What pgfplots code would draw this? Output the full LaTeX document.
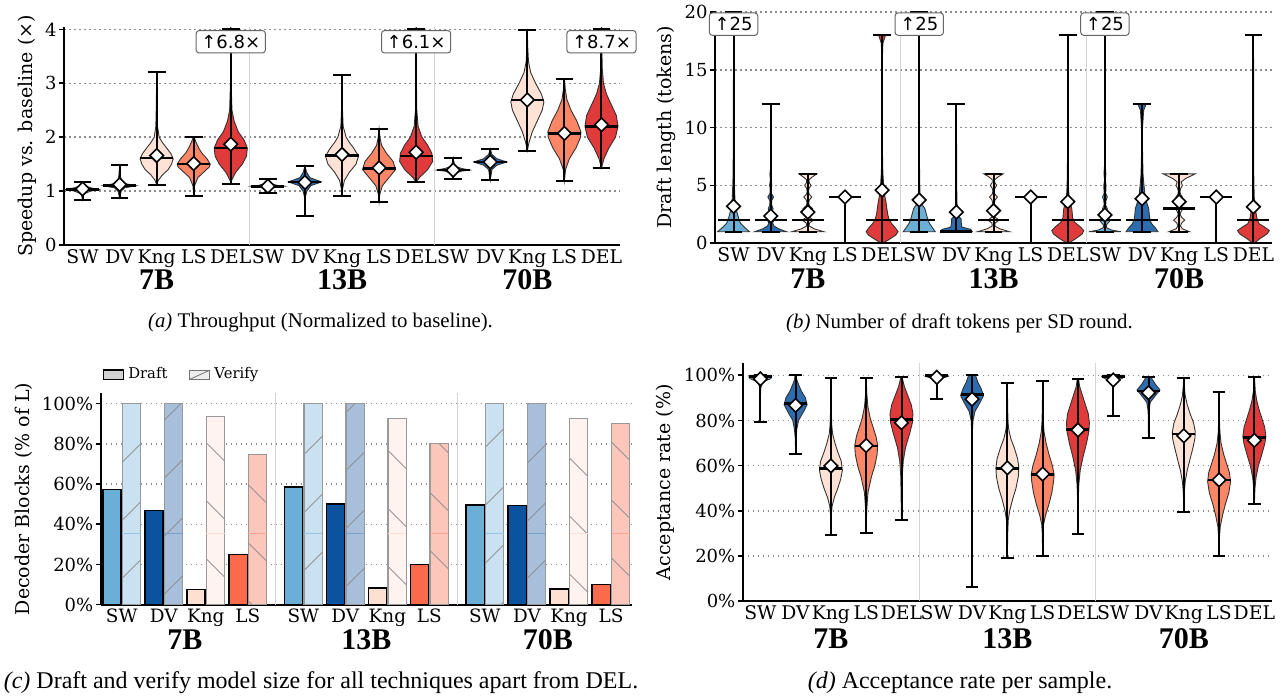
\documentclass[border=0pt]{standalone}
\usepackage{fontspec}
\setmainfont{DejaVu Serif}
\newfontfamily\capfont{Liberation Serif}
\newfontfamily\boxfont{DejaVu Sans}
\usepackage{pgfplots}
\pgfplotsset{compat=1.18}
\usetikzlibrary{patterns.meta}

% violin colours
\definecolor{vSW}{HTML}{6BAED6}
\definecolor{vDV}{HTML}{2C6DB0}
\definecolor{vKng}{HTML}{FEE2D5}
\definecolor{vLS}{HTML}{FC8666}
\definecolor{vDEL}{HTML}{E13A3A}
% bar colours (draft / verify)
\definecolor{bSW}{HTML}{6BAED6}
\definecolor{bDV}{HTML}{0B539C}
\definecolor{bKng}{HTML}{FEE0D2}
\definecolor{bLS}{HTML}{FB6A4A}
\definecolor{wSW}{HTML}{C9E1F0}
\definecolor{wDV}{HTML}{A7BFDA}
\definecolor{wKng}{HTML}{FFF3EF}
\definecolor{wLS}{HTML}{FCC7BA}
\definecolor{gridc}{HTML}{8C8C8C}
\definecolor{sepc}{HTML}{D4D4D4}

\tikzset{
  grp/.style={font=\capfont\bfseries\fontsize{15}{15}\selectfont, inner sep=0pt},
  anno/.style={font=\boxfont\fontsize{9}{9}\selectfont, draw=black!60, fill=white,
    rounded corners=1.5pt, line width=0.5pt, inner xsep=2.6pt, inner ysep=2.2pt},
}
\pgfplotsset{
  panel/.style={
    scale only axis, anchor=south west, clip mode=individual,
    axis x line*=bottom, axis y line*=left,
    axis line style={-, line width=0.9pt, black},
    ymajorgrids,
    major grid style={dash pattern=on 0.8pt off 1.7pt, line width=0.75pt, gridc},
    tick align=outside, major tick length=2.5pt,
    ytick style={line width=0.8pt, black},
    xtick style={draw=none},
    xticklabel shift=-1.5pt,
    /pgf/number format/assume math mode=true,
    yticklabel style={font=\fontsize{9}{9}\selectfont, inner sep=1pt},
    xticklabel style={font=\fontsize{9.4}{9.4}\selectfont, inner sep=1pt},
    ylabel style={font=\fontsize{9.5}{10}\selectfont},
  },
  vbody/.style={draw=black!80, line width=0.45pt},
  vline/.style={black, line width=1pt},
  vmed/.style={black, line width=1.3pt},
  vmean/.style={only marks, mark=square*, mark size=2.4pt,
    mark options={rotate=45, fill=white, draw=black, line width=0.8pt}},
  sep/.style={sepc, line width=0.6pt},
}

% violin body: centre, colour, list of value/relative half-width
\newcommand\vbody[3]{%
  \gdef\vR{}\gdef\vL{}%
  \foreach \yy/\ww in {#3}{%
    \pgfmathsetmacro\xr{#1+\vhw*\ww}%
    \pgfmathsetmacro\xl{#1-\vhw*\ww}%
    \xdef\vR{\vR(\xr,\yy)}%
    \xdef\vL{(\xl,\yy)\vL}%
  }%
  \edef\vtmp{\noexpand\addplot[vbody,fill=#2] coordinates {\vR\vL} -- cycle;}%
  \vtmp}
% whisker, caps, median line and mean: centre, min, max, median, mean
\newcommand\vstat[5]{%
  \pgfmathsetmacro\ca{#1-\vcap}\pgfmathsetmacro\cb{#1+\vcap}%
  \pgfmathsetmacro\ma{#1-\vhw}\pgfmathsetmacro\mb{#1+\vhw}%
  \edef\vtmp{%
    \noexpand\addplot[vline] coordinates {(#1,#2) (#1,#3)};%
    \noexpand\addplot[vline] coordinates {(\ca,#2) (\cb,#2)};%
    \noexpand\addplot[vline] coordinates {(\ca,#3) (\cb,#3)};%
    \noexpand\addplot[vmed] coordinates {(\ma,#4) (\mb,#4)};%
    \noexpand\addplot[vmean] coordinates {(#1,#5)};}%
  \vtmp}

\begin{document}
\begin{tikzpicture}
\useasboundingbox (0,0) rectangle (642pt,350pt);

% ---------------- (a) throughput ----------------
\def\vhw{0.446}\def\vcap{0.24}
\begin{axis}[panel, at={(32pt,227.5pt)}, width=278pt, height=108.9pt,
  xmin=-0.5, xmax=14.5, ymin=0, ymax=4.04, ytick={0,1,2,3,4},
  xtick={0,...,14},
  xticklabels={SW,DV,Kng,LS,DEL,SW,DV,Kng,LS,DEL,SW,DV,Kng,LS,DEL},
  ylabel={Speedup vs. baseline (×)}]
\addplot[sep] coordinates {(4.5,0) (4.5,4.04)};
\addplot[sep] coordinates {(9.5,0) (9.5,4.04)};
% 7B
\vbody{0}{vSW}{0.84/0,0.95/0.08,1.0/0.5,1.03/1,1.06/0.5,1.1/0.1,1.17/0}
\vstat{0}{0.84}{1.17}{1.03}{1.04}
\vbody{1}{vDV}{0.88/0,1.0/0.1,1.06/0.3,1.1/1,1.14/0.3,1.2/0.1,1.3/0.04,1.48/0}
\vstat{1}{0.88}{1.48}{1.1}{1.12}
\vbody{2}{vKng}{1.12/0,1.2/0.1,1.3/0.35,1.4/0.7,1.5/0.9,1.6/1,1.7/0.85,1.8/0.6,1.9/0.35,2.0/0.15,2.2/0.05,2.6/0.02,3.2/0}
\vstat{2}{1.12}{3.2}{1.61}{1.66}
\vbody{3}{vLS}{0.9/0,1.1/0.05,1.25/0.25,1.35/0.6,1.45/0.95,1.5/1,1.6/0.8,1.7/0.5,1.8/0.3,1.9/0.15,2.0/0.02}
\vstat{3}{0.9}{2.01}{1.5}{1.51}
\vbody{4}{vDEL}{1.14/0,1.2/0.05,1.35/0.3,1.5/0.7,1.65/0.95,1.8/1,1.95/0.8,2.1/0.45,2.3/0.2,2.5/0.07,3/0.02,4.2/0.01}
\vstat{4}{1.14}{4}{1.8}{1.87}
% 13B
\vbody{5}{vSW}{0.96/0,1.04/0.1,1.07/0.5,1.09/1,1.11/0.5,1.15/0.1,1.22/0}
\vstat{5}{0.96}{1.22}{1.09}{1.09}
\vbody{6}{vDV}{0.53/0,0.9/0.03,1.0/0.12,1.1/0.35,1.17/1,1.25/0.3,1.35/0.1,1.47/0}
\vstat{6}{0.53}{1.47}{1.17}{1.16}
\vbody{7}{vKng}{0.9/0,1.05/0.04,1.2/0.15,1.35/0.45,1.5/0.85,1.65/1,1.8/0.7,1.9/0.45,2.0/0.25,2.2/0.07,2.5/0.03,3.15/0}
\vstat{7}{0.9}{3.15}{1.66}{1.68}
\vbody{8}{vLS}{0.8/0,0.95/0.05,1.1/0.2,1.25/0.6,1.4/1,1.55/0.85,1.7/0.45,1.85/0.15,2.0/0.05,2.15/0}
\vstat{8}{0.8}{2.15}{1.42}{1.43}
\vbody{9}{vDEL}{1.17/0,1.25/0.2,1.4/0.7,1.55/1,1.7/0.95,1.85/0.7,2.0/0.35,2.2/0.12,2.5/0.04,3/0.02,4.2/0.01}
\vstat{9}{1.17}{4}{1.65}{1.72}
% 70B
\vbody{10}{vSW}{1.23/0,1.33/0.1,1.37/0.5,1.39/1,1.42/0.5,1.46/0.1,1.61/0}
\vstat{10}{1.23}{1.61}{1.39}{1.39}
\vbody{11}{vDV}{1.2/0,1.4/0.1,1.48/0.4,1.54/1,1.6/0.4,1.68/0.1,1.78/0}
\vstat{11}{1.2}{1.78}{1.54}{1.54}
\vbody{12}{vKng}{1.75/0,1.9/0.1,2.1/0.3,2.3/0.6,2.5/0.9,2.65/1,2.8/0.85,3.0/0.5,3.2/0.2,3.4/0.07,3.7/0.02,3.98/0}
\vstat{12}{1.75}{3.98}{2.69}{2.69}
\vbody{13}{vLS}{1.19/0,1.4/0.07,1.6/0.3,1.8/0.7,2.0/0.98,2.1/1,2.3/0.75,2.5/0.4,2.7/0.15,2.9/0.05,3.08/0}
\vstat{13}{1.19}{3.08}{2.07}{2.07}
\vbody{14}{vDEL}{1.43/0,1.6/0.15,1.8/0.45,2.0/0.85,2.2/1,2.4/0.9,2.6/0.6,2.8/0.3,3.0/0.12,3.3/0.04,4.2/0.01}
\vstat{14}{1.43}{4}{2.2}{2.23}
\node[anno] at (axis cs:4,3.77) {↑6.8×};
\node[anno] at (axis cs:9,3.77) {↑6.1×};
\node[anno] at (axis cs:14,3.77) {↑8.7×};
\node[grp] at (axis cs:2,0) [yshift=-17.5pt] {7B};
\node[grp] at (axis cs:7,0) [yshift=-17.5pt] {13B};
\node[grp] at (axis cs:12,0) [yshift=-17.5pt] {70B};
\end{axis}

% ---------------- (b) draft length ----------------
\def\vhw{0.43}\def\vcap{0.24}
\begin{axis}[panel, at={(357.5pt,228.35pt)}, width=278.5pt, height=115.95pt,
  xmin=-0.5, xmax=14.5, ymin=0, ymax=20.05, ytick={0,5,10,15,20},
  xtick={0,...,14},
  xticklabels={SW,DV,Kng,LS,DEL,SW,DV,Kng,LS,DEL,SW,DV,Kng,LS,DEL},
  ylabel={Draft length (tokens)}]
\addplot[sep] coordinates {(4.5,0) (4.5,20.05)};
\addplot[sep] coordinates {(9.5,0) (9.5,20.05)};
% 7B
\vbody{0}{vSW}{1/1,1.3/0.75,1.7/0.45,2/0.35,2.5/0.25,3/0.15,3.5/0.1,4/0.08,5/0.05,6/0.03,8/0.02,10/0.01,20.5/0.005}
\vstat{0}{1}{20}{2}{3.2}
\vbody{1}{vDV}{1/1,1.25/0.5,1.5/0.2,1.75/0.12,2/0.2,2.3/0.08,2.7/0.08,3/0.15,3.3/0.06,3.7/0.06,4/0.18,4.3/0.05,4.7/0.03,5/0.07,5.5/0.02,6/0.05,6.5/0.01,8/0.01,12/0.005}
\vstat{1}{1}{12}{2}{2.36}
\vbody{2}{vKng}{1/1,1.25/0.4,1.5/0.08,1.75/0.1,2/0.35,2.25/0.1,2.5/0.05,2.75/0.1,3/0.3,3.25/0.1,3.5/0.05,3.75/0.1,4/0.25,4.25/0.08,4.5/0.04,4.75/0.08,5/0.2,5.25/0.08,5.5/0.08,5.75/0.3,6/0.55}
\vstat{2}{1}{6}{2}{2.7}
\vstat{3}{0}{4}{4}{4}
\vbody{4}{vDEL}{0/0.05,0.3/0.4,0.7/0.85,1.0/1.0,1.3/0.85,1.7/0.6,2/0.45,2.5/0.35,3/0.3,3.5/0.25,4/0.18,5/0.1,6/0.05,7/0.03,9/0.02,12/0.015,16/0.015,17.3/0.05,18/0.22}
\vstat{4}{0}{18}{2}{4.6}
% 13B
\vbody{5}{vSW}{1/1,1.3/0.85,1.7/0.65,2/0.55,2.5/0.45,3/0.35,3.3/0.2,3.7/0.08,4.5/0.04,6/0.02,10/0.01,20.5/0.005}
\vstat{5}{1}{20}{2}{3.75}
\vbody{6}{vDV}{1/1,1.2/0.9,1.4/0.35,1.8/0.3,2.1/0.3,2.4/0.1,3/0.05,4/0.03,6/0.015,12/0.005}
\vstat{6}{1}{12}{1}{2.7}
\vbody{7}{vKng}{1/1,1.25/0.4,1.5/0.08,1.75/0.1,2/0.35,2.25/0.1,2.5/0.05,2.75/0.1,3/0.3,3.25/0.1,3.5/0.05,3.75/0.1,4/0.25,4.25/0.08,4.5/0.04,4.75/0.08,5/0.2,5.25/0.08,5.5/0.08,5.75/0.3,6/0.6}
\vstat{7}{1}{6}{2}{2.82}
\vstat{8}{0}{4}{4}{4}
\vbody{9}{vDEL}{0/0.05,0.4/0.5,0.8/0.9,1.1/1.0,1.4/0.8,1.8/0.45,2.2/0.3,2.6/0.28,3/0.25,3.5/0.15,4/0.08,5/0.04,7/0.02,10/0.01,18/0.005}
\vstat{9}{0}{18}{2}{3.6}
% 70B
\vbody{10}{vSW}{1/1,1.15/0.4,1.35/0.1,1.6/0.1,2/0.35,2.3/0.1,2.6/0.05,3/0.15,3.3/0.05,3.7/0.07,4/0.15,4.3/0.05,5/0.07,5.5/0.02,6/0.06,7/0.01,20.5/0.005}
\vstat{10}{1}{20}{2}{2.45}
\vbody{11}{vDV}{1/1,1.3/0.85,1.7/0.6,2/0.5,2.5/0.45,3/0.42,3.5/0.3,4/0.2,5/0.12,6/0.06,8/0.03,10/0.03,11.5/0.1,12/0.25}
\vstat{11}{1}{12}{2}{3.86}
\vbody{12}{vKng}{1/0.65,1.25/0.2,1.5/0.08,1.75/0.15,2/0.35,2.25/0.15,2.5/0.06,2.75/0.12,3/0.25,3.25/0.1,3.5/0.05,3.75/0.1,4/0.2,4.25/0.08,4.5/0.05,4.75/0.1,5/0.2,5.3/0.12,5.6/0.4,6/1.0}
\vstat{12}{1}{6}{3}{3.6}
\vstat{13}{0}{4}{4}{4}
\vbody{14}{vDEL}{0/0.05,0.4/0.4,0.8/0.85,1.1/1.0,1.4/0.7,1.7/0.35,2.0/0.25,2.3/0.2,2.7/0.15,3/0.12,3.5/0.08,4/0.05,5/0.03,6/0.02,10/0.01,18/0.005}
\vstat{14}{0}{18}{2}{3.15}
\node[anno] at (axis cs:0,18.95) {↑25};
\node[anno] at (axis cs:5,18.95) {↑25};
\node[anno] at (axis cs:10,18.95) {↑25};
\node[grp] at (axis cs:2,0) [yshift=-17.5pt] {7B};
\node[grp] at (axis cs:7,0) [yshift=-17.5pt] {13B};
\node[grp] at (axis cs:12,0) [yshift=-17.5pt] {70B};
\end{axis}

% ---------------- (c) draft / verify model size ----------------
\begin{axis}[panel, at={(50.35pt,47.65pt)}, width=265.65pt, height=105.75pt,
  xmin=-0.5, xmax=12.14, ymin=0, ymax=105.2, ytick={0,20,40,60,80,100},
  yticklabel={\pgfmathprintnumber{\tick}\%},
  xtick={0,1,2,3,4.32,5.32,6.32,7.32,8.64,9.64,10.64,11.64},
  xticklabels={SW,DV,Kng,LS,SW,DV,Kng,LS,SW,DV,Kng,LS},
  xticklabel style={font=\fontsize{9.2}{9.2}\selectfont},
  ylabel={Decoder Blocks (\% of L)},
  legend style={at={(axis description cs:0.0,1.0)}, anchor=south west,
    yshift=2.5pt, draw=none, fill=none, legend columns=2,
    font=\fontsize{7.4}{7.4}\selectfont, inner sep=1pt,
    /tikz/every even column/.append style={column sep=9pt}},
  draftbar/.style={ybar, bar width=0.435, bar shift=-0.232, draw=black, line width=0.7pt},
  verbar/.style={ybar, bar width=0.435, bar shift=0.232, draw=black!40, line width=0.6pt},
  hatchR/.style={postaction={pattern={Lines[angle=45,distance=20.5pt,line width=0.45pt]},pattern color=black!45}},
  hatchL/.style={postaction={pattern={Lines[angle=-45,distance=20.5pt,line width=0.45pt]},pattern color=black!45}},
  unbounded coords=jump,
]
\addlegendimage{legend image code/.code={\draw[fill=black!18, draw=black, line width=0.6pt] (0pt,-2.3pt) rectangle (10pt,2.3pt);}}
\addlegendentry{Draft}
\addlegendimage{legend image code/.code={\draw[fill=black!7, draw=black!55, line width=0.5pt] (0pt,-2.3pt) rectangle (10pt,2.3pt); \draw[black!55, line width=0.4pt] (0pt,-2.3pt) -- (10pt,2.3pt);}}
\addlegendentry{Verify}
\addplot[sep, forget plot] coordinates {(3.66,0) (3.66,105.2)};
\addplot[sep, forget plot] coordinates {(7.98,0) (7.98,105.2)};
% draft model share
\addplot[draftbar, fill=bSW, forget plot] coordinates {(0,57.4) (4.32,58.5) (8.64,49.6)};
\addplot[draftbar, fill=bDV, forget plot] coordinates {(1,46.9) (5.32,50.1) (9.64,49.3)};
\addplot[draftbar, fill=bKng, forget plot] coordinates {(2,7.5) (6.32,8.3) (10.64,7.8)};
\addplot[draftbar, fill=bLS, forget plot] coordinates {(3,25.0) (7.32,20.1) (11.64,10.1)};
% verify model share
\addplot[verbar, fill=wSW, hatchR, forget plot] coordinates {(0,100) (4.32,100) (8.64,100)};
\addplot[verbar, fill=wDV, hatchR, forget plot] coordinates {(1,100) (5.32,100) (9.64,100)};
\addplot[verbar, fill=wKng, hatchL, forget plot] coordinates {(2,93.7) (6.32,92.5) (10.64,92.5)};
\addplot[verbar, fill=wLS, hatchL, forget plot] coordinates {(3,74.8) (7.32,80.1) (11.64,90.2)};
% faint level line inside each verify bar
\addplot[bSW!70, line width=0.5pt, forget plot] coordinates {(0.015,35.5) (0.449,35.5) (0.5,nan) (4.335,35.5) (4.769,35.5) (4.8,nan) (8.655,35.5) (9.089,35.5)};
\addplot[bDV!55, line width=0.5pt, forget plot] coordinates {(1.015,35.5) (1.449,35.5) (1.5,nan) (5.335,35.5) (5.769,35.5) (5.8,nan) (9.655,35.5) (10.089,35.5)};
\addplot[bKng, line width=0.5pt, forget plot] coordinates {(2.015,35.5) (2.449,35.5) (2.5,nan) (6.335,35.5) (6.769,35.5) (6.8,nan) (10.655,35.5) (11.089,35.5)};
\addplot[bLS!60, line width=0.5pt, forget plot] coordinates {(3.015,35.5) (3.449,35.5) (3.5,nan) (7.335,35.5) (7.769,35.5) (7.8,nan) (11.655,35.5) (12.089,35.5)};
\node[grp] at (axis cs:1.5,0) [yshift=-17.3pt] {7B};
\node[grp] at (axis cs:5.82,0) [yshift=-17.3pt] {13B};
\node[grp] at (axis cs:10.14,0) [yshift=-17.3pt] {70B};
\end{axis}

% ---------------- (d) acceptance rate ----------------
\def\vhw{0.325}\def\vcap{0.18}
\begin{axis}[panel, at={(371.35pt,49.35pt)}, width=264.65pt, height=119pt,
  xmin=-0.5, xmax=14.5, ymin=0, ymax=105.3, ytick={0,20,40,60,80,100},
  yticklabel={\pgfmathprintnumber{\tick}\%},
  xtick={0,...,14},
  xticklabels={SW,DV,Kng,LS,DEL,SW,DV,Kng,LS,DEL,SW,DV,Kng,LS,DEL},
  ylabel={Acceptance rate (\%)}]
\addplot[sep] coordinates {(4.5,0) (4.5,105.3)};
\addplot[sep] coordinates {(9.5,0) (9.5,105.3)};
% 7B
\vbody{0}{vSW}{79.2/0,94/0.02,97/0.2,98.5/0.9,99.3/1,100/0.9}
\vstat{0}{79.2}{100}{99.5}{98.4}
\vbody{1}{vDV}{65/0,72/0.03,76/0.1,80/0.25,84/0.7,87/1,90/0.85,93/0.5,96/0.25,98/0.1,100/0.05}
\vstat{1}{65}{100}{87.6}{86.7}
\vbody{2}{vKng}{29.4/0,38/0.03,42/0.1,46/0.3,50/0.6,54/0.85,58/1,62/0.9,66/0.6,70/0.35,74/0.15,78/0.07,85/0.03,98.8/0}
\vstat{2}{29.4}{98.8}{58.8}{59.9}
\vbody{3}{vLS}{30.4/0,40/0.04,48/0.15,55/0.45,60/0.75,65/0.95,69/1,73/0.85,77/0.6,81/0.35,86/0.15,92/0.05,99/0}
\vstat{3}{30.4}{99}{68.7}{68.9}
\vbody{4}{vDEL}{36/0,45/0.03,55/0.06,62/0.15,68/0.35,74/0.7,79/0.95,83/1,87/0.85,91/0.55,95/0.25,99.1/0.05}
\vstat{4}{36}{99.1}{80.5}{79}
% 13B
\vbody{5}{vSW}{89.5/0,96/0.03,98.5/0.3,99.5/1,100/0.9}
\vstat{5}{89.5}{100}{100}{99.1}
\vbody{6}{vDV}{6.5/0,60/0.005,75/0.03,80/0.08,84/0.25,88/0.7,91/1,94/0.8,97/0.5,100/0.3}
\vstat{6}{6.5}{100}{91.4}{89.4}
\vbody{7}{vKng}{19.2/0,30/0.03,36/0.08,40/0.2,45/0.45,50/0.75,55/0.95,59/1,63/0.9,68/0.6,72/0.3,76/0.12,80/0.05,88/0.02,96.8/0}
\vstat{7}{19.2}{96.8}{58.8}{59}
\vbody{8}{vLS}{19.9/0,30/0.03,34/0.08,38/0.25,43/0.55,48/0.8,53/0.95,56/1,60/0.85,65/0.55,70/0.3,75/0.12,80/0.05,88/0.02,97.3/0}
\vstat{8}{19.9}{97.3}{56}{56.3}
\vbody{9}{vDEL}{29.6/0,45/0.03,52/0.08,58/0.2,64/0.45,70/0.75,75/0.95,79/1,83/0.9,87/0.65,91/0.4,95/0.15,98.5/0.05}
\vstat{9}{29.6}{98.5}{76}{75.8}
% 70B
\vbody{10}{vSW}{82.2/0,95/0.03,97.5/0.3,99/0.9,99.5/1,100/0.9}
\vstat{10}{82.2}{100}{99.5}{97.9}
\vbody{11}{vDV}{72.4/0,84/0.03,88/0.15,91/0.6,93.5/1,96/0.6,98/0.35,99.4/0.2}
\vstat{11}{72.4}{99.4}{93}{92.3}
\vbody{12}{vKng}{39.5/0,48/0.04,53/0.12,58/0.3,63/0.55,68/0.8,72/0.97,75/1,79/0.85,83/0.55,87/0.3,91/0.12,95/0.05,99/0.01}
\vstat{12}{39.5}{99}{74}{73.2}
\vbody{13}{vLS}{20.2/0,28/0.03,33/0.1,38/0.3,43/0.55,48/0.85,53/1,57/0.9,61/0.65,65/0.4,70/0.17,75/0.07,82/0.02,92.5/0}
\vstat{13}{20.2}{92.5}{53.7}{53.7}
\vbody{14}{vDEL}{43.1/0,50/0.05,55/0.15,60/0.35,65/0.65,70/0.92,73/1,77/0.9,81/0.65,85/0.4,89/0.2,93/0.08,99/0.01}
\vstat{14}{43.1}{99.1}{72.4}{71.2}
\node[grp] at (axis cs:2,0) [yshift=-18.5pt] {7B};
\node[grp] at (axis cs:7,0) [yshift=-18.5pt] {13B};
\node[grp] at (axis cs:12,0) [yshift=-18.5pt] {70B};
\end{axis}

% ---------------- captions ----------------
\begin{scope}[every node/.style={font=\capfont\fontsize{10.4}{12}\selectfont}]
\node at (160.25pt,188.5pt) {{\itshape (a)} Throughput (Normalized to baseline).};
\node at (479.75pt,188.5pt) {{\itshape (b)} Number of draft tokens per SD round.};
\end{scope}
\begin{scope}[every node/.style={font=\capfont\fontsize{12}{13}\selectfont}]
\node at (160.5pt,8.5pt) {{\itshape (c)} Draft and verify model size for all techniques apart from DEL.};
\node at (480pt,8.5pt) {{\itshape (d)} Acceptance rate per sample.};
\end{scope}
\end{tikzpicture}
\end{document}
